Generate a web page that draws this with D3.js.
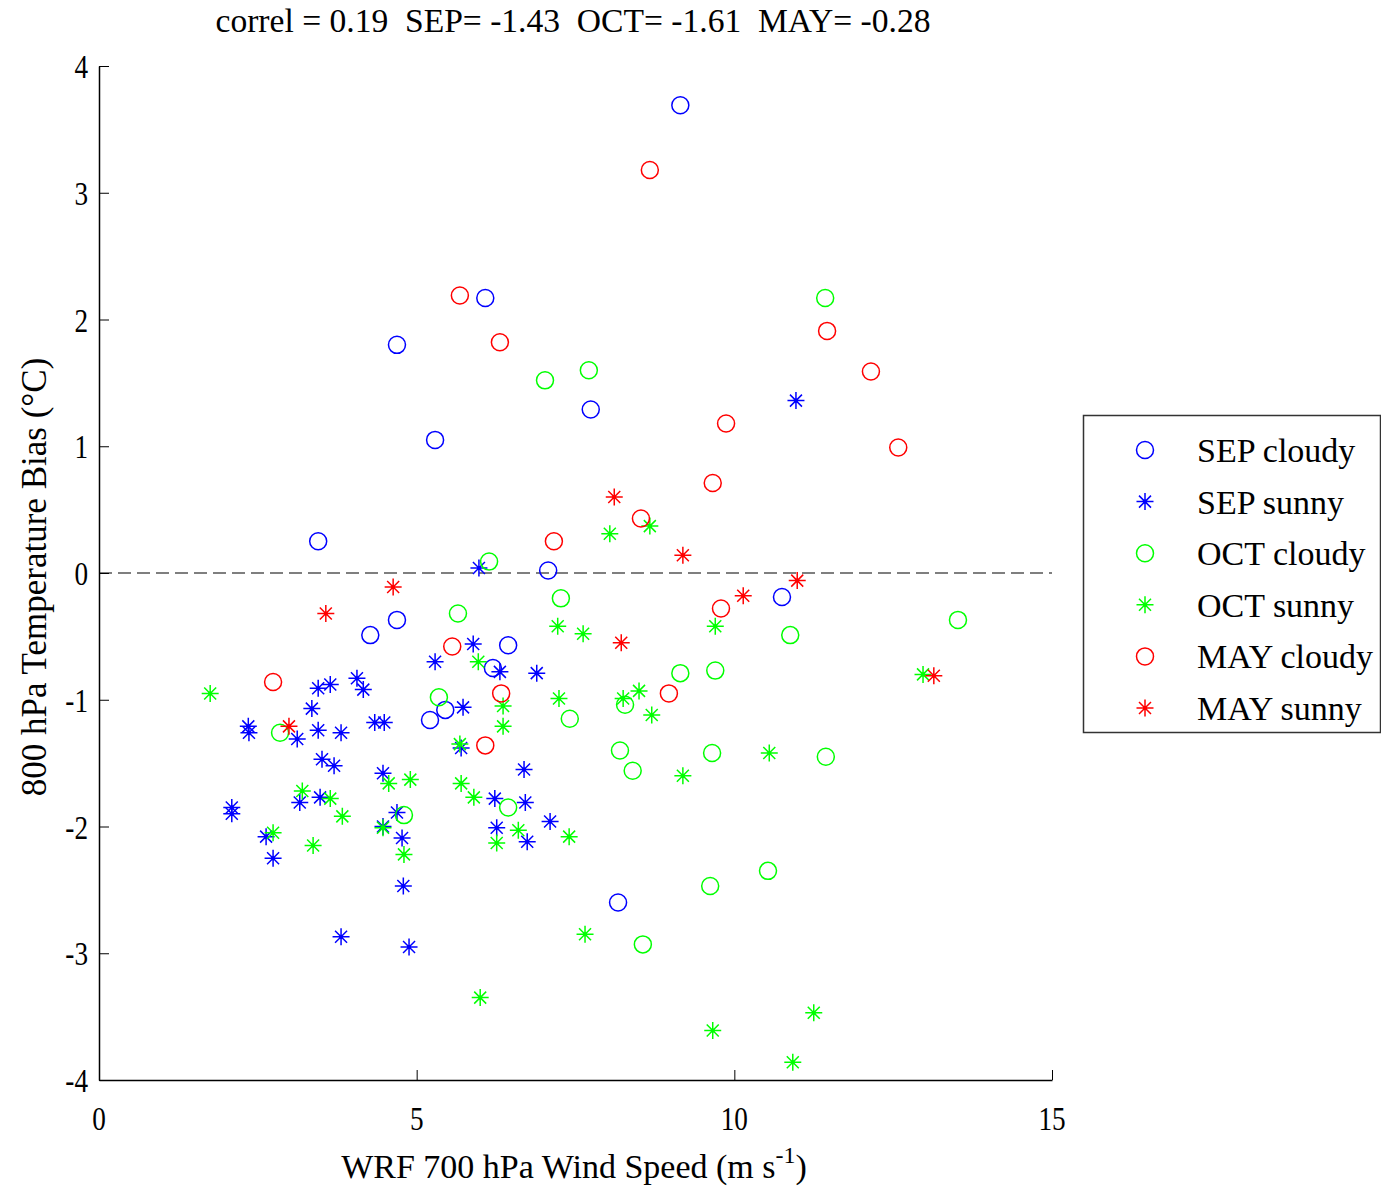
<!DOCTYPE html>
<html>
<head>
<meta charset="utf-8">
<script src="https://cdn.jsdelivr.net/npm/d3@7"></script>
<style>
  body { margin: 0; background: #fff; }
  text { font-family: "Liberation Serif", "DejaVu Serif", serif; fill: #000; white-space: pre; }
</style>
</head>
<body>
<svg id="chart" width="1381" height="1188"></svg>
<script>
// series data: [wind speed, temperature bias]
var sepCloudy = [[9.15,3.69],[6.08,2.17],[4.69,1.80],[7.74,1.29],[5.29,1.05],[3.45,0.25],
  [7.07,0.02],[10.75,-0.19],[4.27,-0.49],[4.69,-0.37],[6.44,-0.57],[6.20,-0.75],
  [5.45,-1.08],[5.21,-1.16],[8.17,-2.60]];
var sepSunny = [[3.45,-0.91],[3.64,-0.88],[4.06,-0.83],[4.16,-0.92],[3.35,-1.07],[2.35,-1.21],
  [2.36,-1.26],[3.12,-1.31],[3.45,-1.24],[3.81,-1.26],[4.34,-1.18],[4.49,-1.18],
  [3.51,-1.47],[3.70,-1.52],[4.47,-1.58],[3.16,-1.81],[3.48,-1.77],[2.09,-1.85],
  [2.09,-1.90],[2.63,-2.08],[2.74,-2.25],[4.69,-1.89],[4.47,-2.00],[4.77,-2.09],
  [4.79,-2.47],[3.81,-2.87],[4.88,-2.95],[5.70,-1.38],[5.89,-0.56],[5.29,-0.70],
  [6.31,-0.78],[6.89,-0.79],[5.73,-1.06],[6.69,-1.55],[6.23,-1.78],[6.71,-1.81],
  [6.26,-2.01],[7.10,-1.96],[6.74,-2.12],[5.98,0.04],[10.97,1.36]];
var octCloudy = [[11.43,2.17],[7.71,1.60],[7.02,1.52],[6.14,0.09],[5.65,-0.32],[7.27,-0.20],
  [13.52,-0.37],[10.88,-0.49],[9.15,-0.79],[9.70,-0.77],[5.35,-0.98],[8.28,-1.04],
  [7.41,-1.15],[2.85,-1.26],[8.20,-1.40],[9.65,-1.42],[8.40,-1.56],[11.44,-1.45],
  [6.44,-1.85],[4.80,-1.91],[10.53,-2.35],[9.62,-2.47],[8.56,-2.93]];
var octSunny = [[1.75,-0.95],[2.74,-2.05],[3.20,-1.72],[3.64,-1.78],[3.83,-1.92],[3.37,-2.15],
  [4.47,-2.01],[4.56,-1.66],[4.90,-1.63],[4.80,-2.22],[7.22,-0.42],[7.62,-0.48],
  [5.97,-0.70],[6.36,-1.05],[6.36,-1.21],[5.68,-1.35],[7.24,-0.99],[5.70,-1.66],
  [5.90,-1.77],[6.60,-2.03],[6.26,-2.13],[7.40,-2.08],[8.04,0.31],[8.67,0.37],
  [9.70,-0.42],[8.50,-0.93],[8.25,-0.99],[8.70,-1.12],[10.55,-1.42],[9.19,-1.60],
  [7.65,-2.85],[6.00,-3.35],[9.66,-3.61],[11.25,-3.47],[10.92,-3.86],[12.97,-0.80]];
var mayCloudy = [[8.67,3.18],[5.68,2.19],[6.31,1.82],[11.46,1.91],[12.15,1.59],[12.58,0.99],
  [9.87,1.18],[9.66,0.71],[8.53,0.43],[7.16,0.25],[9.79,-0.28],[8.97,-0.95],
  [5.56,-0.58],[6.33,-0.95],[6.08,-1.36],[2.74,-0.86]];
var maySunny = [[8.11,0.60],[9.19,0.14],[10.14,-0.18],[10.99,-0.06],[8.22,-0.55],[4.63,-0.11],
  [3.57,-0.32],[2.99,-1.21],[13.14,-0.81]];

var seriesNames = ["SEP cloudy","SEP sunny","OCT cloudy","OCT sunny","MAY cloudy","MAY sunny"];
var seriesData = [sepCloudy, sepSunny, octCloudy, octSunny, mayCloudy, maySunny];
var seriesColors = ["#0000ff","#0000ff","#00ff00","#00ff00","#ff0000","#ff0000"];
var seriesMarkers = ["circle","star","circle","star","circle","star"];

var xTicks = [0,5,10,15];
var yTicks = [-4,-3,-2,-1,0,1,2,3,4];
var titleText = "correl = 0.19  SEP= -1.43  OCT= -1.61  MAY= -0.28";

var svg = d3.select("#chart");
var margin = {left: 99, top: 66, right: 1052, bottom: 1080};
var squeeze = 0.8; // tick labels are horizontally narrow in the original

var x = d3.scaleLinear().domain([0, 15]).range([margin.left, margin.right]);
var y = d3.scaleLinear().domain([-4, 4]).range([margin.bottom, margin.top]);

// zero reference line
svg.append("line")
    .attr("x1", x(0)).attr("x2", x(15))
    .attr("y1", y(0)).attr("y2", y(0))
    .attr("stroke", "#555")
    .attr("stroke-width", 1.5)
    .attr("stroke-dasharray", "13,6");

// axes with inward ticks
svg.append("g")
    .attr("transform", "translate(0," + y(-4) + ")")
    .call(d3.axisTop(x).tickValues(xTicks).tickSize(10).tickSizeOuter(0).tickFormat(""));
svg.append("g")
    .attr("transform", "translate(" + x(0) + ",0)")
    .call(d3.axisRight(y).tickValues(yTicks).tickSize(10).tickSizeOuter(0).tickFormat(""));
svg.selectAll(".domain").attr("stroke", "#000").attr("stroke-width", 1.5);
svg.selectAll(".tick line").attr("stroke", "#000").attr("stroke-width", 1);

svg.append("g").selectAll("text")
    .data(xTicks)
  .enter().append("text")
    .attr("transform", function(d) { return "translate(" + x(d) + "," + (y(-4) + 50) + ") scale(" + squeeze + ",1)"; })
    .attr("text-anchor", "middle")
    .attr("font-size", 34)
    .text(function(d) { return d; });

svg.append("g").selectAll("text")
    .data(yTicks)
  .enter().append("text")
    .attr("transform", function(d) { return "translate(" + (x(0) - 11) + "," + (y(d) + 12) + ") scale(" + squeeze + ",1)"; })
    .attr("text-anchor", "end")
    .attr("font-size", 34)
    .text(function(d) { return d; });

// title and axis labels
svg.append("text")
    .attr("x", 573).attr("y", 32)
    .attr("text-anchor", "middle")
    .attr("font-size", 33)
    .attr("textLength", 715)
    .attr("lengthAdjust", "spacingAndGlyphs")
    .text(titleText);

var xl = svg.append("text")
    .attr("transform", "translate(574,1178)")
    .attr("text-anchor", "middle")
    .attr("font-size", 34);
xl.append("tspan").text("WRF 700 hPa Wind Speed (m s");
xl.append("tspan").attr("dy", -15).attr("font-size", 24).text("-1");
xl.append("tspan").attr("dy", 15).text(")");

svg.append("text")
    .attr("transform", "translate(46,577) rotate(-90)")
    .attr("text-anchor", "middle")
    .attr("font-size", 35)
    .text("800 hPa Temperature Bias (°C)");

// marker drawing
function drawMarker(sel, type, color) {
  if (type === "circle") {
    sel.append("circle").attr("r", 8.5)
      .attr("fill", "none").attr("stroke", color).attr("stroke-width", 1.5);
  } else {
    var s = 8.5, d = 6;
    sel.append("path")
      .attr("d", "M0," + (-s) + "V" + s + "M" + (-s) + ",0H" + s +
                 "M" + (-d) + "," + (-d) + "L" + d + "," + d +
                 "M" + (-d) + "," + d + "L" + d + "," + (-d))
      .attr("fill", "none").attr("stroke", color).attr("stroke-width", 1.5);
    sel.append("circle").attr("r", 2).attr("fill", color);
  }
}

seriesData.forEach(function(data, i) {
  svg.append("g").selectAll("g")
      .data(data)
    .enter().append("g")
      .attr("transform", function(d) { return "translate(" + x(d[0]) + "," + y(d[1]) + ")"; })
      .each(function() { drawMarker(d3.select(this), seriesMarkers[i], seriesColors[i]); });
});

// legend
var legend = svg.append("g");
legend.append("rect")
    .attr("x", 1083.5).attr("y", 415.5)
    .attr("width", 297).attr("height", 317)
    .attr("fill", "#fff").attr("stroke", "#333").attr("stroke-width", 1.5);
seriesNames.forEach(function(name, i) {
  var ly = 450 + i * 51.6;
  var g = legend.append("g").attr("transform", "translate(1145," + ly + ")");
  drawMarker(g, seriesMarkers[i], seriesColors[i]);
  legend.append("text")
      .attr("x", 1197).attr("y", ly + 12)
      .attr("font-size", 34)
      .text(name);
});
</script>
</body>
</html>
